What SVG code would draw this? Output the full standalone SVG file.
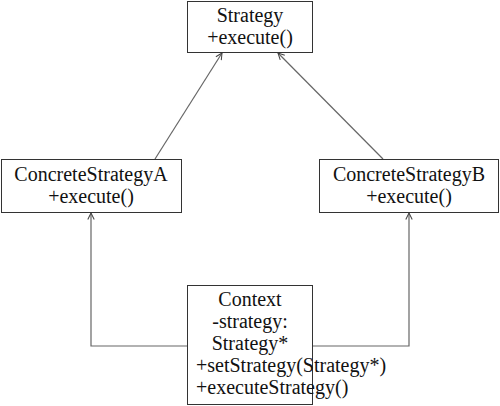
<svg xmlns="http://www.w3.org/2000/svg" width="500" height="406" viewBox="0 0 500 406">
<style>
.box{fill:#fff;stroke:#333;stroke-width:1}
.t{font-family:"Times New Roman","Liberation Serif",Times,serif;font-size:20px;fill:#111}
.c{text-anchor:middle}
.conn{fill:none;stroke:#666;stroke-width:1.2}
</style>
<defs>
<marker id="arr" viewBox="0 0 10 10" refX="9" refY="5" markerWidth="8" markerHeight="8" markerUnits="userSpaceOnUse" orient="auto">
<path d="M1,1 L9,5 L1,9" fill="none" stroke="#444" stroke-width="1.3"/>
</marker>
</defs>
<g id="connectors">
<path class="conn" d="M155,159 L222,53" marker-end="url(#arr)"/>
<path class="conn" d="M383,159 L278,53" marker-end="url(#arr)"/>
<path class="conn" d="M187,346 L91,346 L91,213" marker-end="url(#arr)"/>
<path class="conn" d="M312,346 L409,346 L409,213" marker-end="url(#arr)"/>
</g>
<g id="strategy">
<rect class="box" x="187.5" y="1.5" width="125" height="51"/>
<text class="t c" x="250" y="22">Strategy</text>
<text class="t c" x="250" y="44">+execute()</text>
</g>
<g id="concreteA">
<rect class="box" x="1.5" y="159.5" width="180" height="53"/>
<text class="t c" x="91" y="181">ConcreteStrategyA</text>
<text class="t c" x="91" y="203">+execute()</text>
</g>
<g id="concreteB">
<rect class="box" x="319.5" y="159.5" width="179" height="53"/>
<text class="t c" x="409" y="181">ConcreteStrategyB</text>
<text class="t c" x="409" y="203">+execute()</text>
</g>
<g id="context">
<rect class="box" x="187.5" y="285.5" width="125" height="119"/>
<text class="t c" x="250" y="306">Context</text>
<text class="t c" x="250" y="328">-strategy:</text>
<text class="t c" x="250" y="350">Strategy*</text>
<text class="t" x="196" y="372">+setStrategy(Strategy*)</text>
<text class="t" x="196" y="394">+executeStrategy()</text>
</g>
</svg>
